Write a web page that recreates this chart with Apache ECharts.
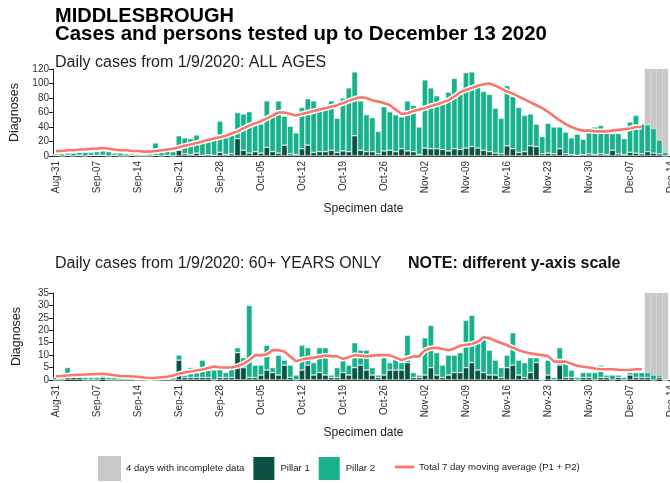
<!DOCTYPE html>
<html>
<head>
<meta charset="utf-8">
<title>Middlesbrough cases</title>
<script src="https://cdn.jsdelivr.net/npm/echarts@6/dist/echarts.min.js"></script>
<style>
  html, body { margin: 0; padding: 0; background: #fff; }
  #chart { width: 670px; height: 483px; }
</style>
</head>
<body>
<div id="chart"></div>
<script>
// specimen dates shown on the x axis (last one only carries the cut-off tick label)
const dates = [
  'Aug-31',
  'Sep-01','Sep-02','Sep-03','Sep-04','Sep-05','Sep-06','Sep-07','Sep-08','Sep-09','Sep-10',
  'Sep-11','Sep-12','Sep-13','Sep-14','Sep-15','Sep-16','Sep-17','Sep-18','Sep-19','Sep-20',
  'Sep-21','Sep-22','Sep-23','Sep-24','Sep-25','Sep-26','Sep-27','Sep-28','Sep-29','Sep-30',
  'Oct-01','Oct-02','Oct-03','Oct-04','Oct-05','Oct-06','Oct-07','Oct-08','Oct-09','Oct-10',
  'Oct-11','Oct-12','Oct-13','Oct-14','Oct-15','Oct-16','Oct-17','Oct-18','Oct-19','Oct-20',
  'Oct-21','Oct-22','Oct-23','Oct-24','Oct-25','Oct-26','Oct-27','Oct-28','Oct-29','Oct-30','Oct-31',
  'Nov-01','Nov-02','Nov-03','Nov-04','Nov-05','Nov-06','Nov-07','Nov-08','Nov-09','Nov-10',
  'Nov-11','Nov-12','Nov-13','Nov-14','Nov-15','Nov-16','Nov-17','Nov-18','Nov-19','Nov-20',
  'Nov-21','Nov-22','Nov-23','Nov-24','Nov-25','Nov-26','Nov-27','Nov-28','Nov-29','Nov-30',
  'Dec-01','Dec-02','Dec-03','Dec-04','Dec-05','Dec-06','Dec-07','Dec-08','Dec-09','Dec-10',
  'Dec-11','Dec-12','Dec-13','Dec-14'
];
const incompleteDays = ['Dec-10', 'Dec-11', 'Dec-12', 'Dec-13'];

// ALL AGES
const allP1 = [
  1,0,1,0,1,0,1,1,1,0, 1,0,0,1,0,0,0,1,0,1, 0,8,3,2,4,1,2,1,5,2,
  3,24,8,4,6,4,12,6,4,15, 3,2,10,15,5,6,6,8,5,7, 6,28,8,6,6,3,7,8,6,10,
  7,6,2,11,10,10,9,7,10,9, 11,13,11,8,6,4,3,14,10,5, 6,14,13,3,4,3,10,3,2,1,
  2,3,2,3,2,8,3,2,5,4, 3,6,4,3,0
];
const allP2 = [
  2,3,3,4,4,5,4,5,6,6, 3,4,3,2,2,2,3,17,5,7, 6,20,22,22,25,21,20,24,43,25,
  27,36,50,57,38,40,64,49,72,40, 38,30,57,64,71,62,62,68,47,73, 88,88,68,51,47,31,61,53,51,44,
  69,64,38,94,84,73,67,81,97,82, 104,103,85,81,79,62,49,83,72,62, 50,44,31,24,41,37,30,30,23,29,
  21,33,38,39,34,23,28,22,42,52, 41,37,34,19,5
];
const allMA = [
  7,7,8,8,9,9,10,10,11,10, 9,8,8,7,7,6,6,7,8,9, 10,12,14,16,18,20,22,24,26,28,
  31,34,38,42,45,48,52,56,60,60, 58,56,58,60,62,64,66,68,70,73, 76,79,81,80,77,75,73,70,64,58,
  59,62,64,66,69,71,74,77,82,88, 91,94,97,99,100,97,93,89,86,82, 78,74,70,66,61,55,49,44,40,37,
  35,35,34,34,34,35,36,37,38,40, 40
];

// 60+ YEARS ONLY
const olderP1 = [
  0,0,1,1,1,0,0,0,1,0, 0,0,0,0,0,0,0,0,0,0, 0,8,1,1,1,1,1,0,1,1,
  1,11,5,1,1,2,4,3,2,6, 1,0,4,6,2,3,2,1,1,3, 2,5,6,4,2,1,2,4,4,4,
  7,1,1,2,5,2,1,2,3,3, 5,7,4,3,2,2,1,5,6,2, 1,3,7,0,2,0,6,1,1,0,
  1,1,0,1,1,0,1,0,2,1, 1,1,0,1,0
];
const olderP2 = [
  1,1,4,2,1,1,1,1,1,1, 1,1,1,1,0,1,0,2,2,1, 1,2,1,4,2,7,3,4,4,2,
  4,2,4,29,5,4,10,2,8,2, 5,2,10,7,5,10,11,1,4,5, 4,10,6,8,3,1,7,3,5,3,
  11,2,1,15,17,9,5,8,7,8, 19,19,12,14,10,6,4,5,13,6, 6,6,2,0,6,1,7,7,3,1,
  2,2,3,5,1,2,1,1,1,2, 2,2,2,1,0
];
const olderMA = [
  1.5,1.6,1.8,2,2.1,2.2,2.3,2.4,2.5,2.2, 1.9,1.6,1.5,1.4,1.3,1,0.8,0.9,1.1,1.3,
  1.8,2.5,3,3.4,3.8,4.2,4.8,5.4,5,5, 5,5.6,6.5,8,10,10,10.3,12,12,11.5,
  9.5,7.5,8.3,8.7,9,9.4,9.8,9.6,9.5,8.5, 9.2,10,9.8,9.5,9.8,10,10,10,9,8,
  8.8,9.5,9.5,12,12.8,13,12.5,12,12.7,13.8, 14.2,14.5,15.4,17.2,16.8,15.8,14.9,14,13,12,
  11.3,10.7,10.3,10,9.6,7.5,7.4,7.4,6.5,5.7, 5.3,5,4.6,4.3,4.3,4.3,4.1,4,4.1,4.3,
  4.3
];

const topMax = 120, topStep = 20;
const bottomMax = 35, bottomStep = 5;

const FONT = '"Liberation Sans", Arial, sans-serif';
const C_P1 = '#0b5244';
const C_P2 = '#19b08c';
const C_GREY = '#c8c8c8';
const C_MA = '#f8766d';

const N_GREY = '4 days with incomplete data';
const N_P1 = 'Pillar 1';
const N_P2 = 'Pillar 2';
const N_MA = 'Total 7 day moving average (P1 + P2)';

const weekly = (i) => i % 7 === 0;

function xAxisFor(g) {
  return {
    type: 'category',
    gridIndex: g,
    data: dates,
    axisLine: { lineStyle: { color: '#222', width: 1 } },
    axisTick: { interval: weekly, alignWithLabel: true, length: 4, lineStyle: { color: '#222' } },
    axisLabel: { interval: weekly, rotate: 90, fontSize: 10, color: '#333', fontFamily: FONT, margin: 5 },
    name: 'Specimen date',
    nameLocation: 'middle',
    nameGap: 47,
    nameTextStyle: { fontSize: 12, color: '#222', fontFamily: FONT }
  };
}

function yAxisFor(g, max, step) {
  return {
    type: 'value',
    gridIndex: g,
    min: 0,
    max: max,
    interval: step,
    axisLine: { show: true, lineStyle: { color: '#222' } },
    axisTick: { show: true, length: 4, lineStyle: { color: '#222' } },
    splitLine: { show: false },
    axisLabel: { fontSize: 10, color: '#333', fontFamily: FONT, margin: 4 },
    name: 'Diagnoses',
    nameLocation: 'middle',
    nameRotate: 90,
    nameGap: 30,
    nameTextStyle: { fontSize: 12.5, color: '#222', fontFamily: FONT }
  };
}

function panelSeries(g, p1, p2, ma, max) {
  const grey = dates.map(d => incompleteDays.includes(d) ? max : null);
  const barBase = { type: 'bar', xAxisIndex: g, yAxisIndex: g, barCategoryGap: 0, barGap: '-100%' };
  return [
    Object.assign({}, barBase, { name: N_GREY, data: grey, itemStyle: { color: C_GREY }, z: 1 }),
    Object.assign({}, barBase, { name: N_P1, stack: 'cases' + g, data: p1, z: 2,
      itemStyle: { color: C_P1, borderColor: '#fff', borderWidth: 0.5 } }),
    Object.assign({}, barBase, { name: N_P2, stack: 'cases' + g, data: p2, z: 2,
      itemStyle: { color: C_P2, borderColor: '#fff', borderWidth: 0.5 } }),
    { type: 'line', name: 'halo' + g, xAxisIndex: g, yAxisIndex: g, data: ma, symbol: 'none',
      silent: true, z: 3, lineStyle: { color: '#fff', width: 5.5 } },
    { type: 'line', name: N_MA, xAxisIndex: g, yAxisIndex: g, data: ma, symbol: 'none',
      z: 4, lineStyle: { color: C_MA, width: 2.6 }, itemStyle: { color: C_MA } }
  ];
}

const chart = echarts.init(document.getElementById('chart'));
chart.setOption({
  animation: false,
  backgroundColor: '#fff',
  textStyle: { fontFamily: FONT },
  title: [
    { text: 'MIDDLESBROUGH', left: 50, top: 1,
      textStyle: { fontSize: 20, fontWeight: 'bold', color: '#000', fontFamily: FONT } },
    { text: 'Cases and persons tested up to December 13 2020', left: 50, top: 19,
      textStyle: { fontSize: 20.4, fontWeight: 'bold', color: '#000', fontFamily: FONT } },
    { text: 'Daily cases from 1/9/2020: ALL AGES', left: 50, top: 50,
      textStyle: { fontSize: 16, fontWeight: 'normal', color: '#222', fontFamily: FONT } },
    { text: 'Daily cases from 1/9/2020: 60+ YEARS ONLY', left: 50, top: 251,
      textStyle: { fontSize: 16, fontWeight: 'normal', color: '#222', fontFamily: FONT } },
    { text: 'NOTE: different y-axis scale', left: 403, top: 251,
      textStyle: { fontSize: 16, fontWeight: 'bold', color: '#111', fontFamily: FONT } }
  ],
  legend: [
    { left: 93, top: 450, itemWidth: 23, itemHeight: 25, itemGap: 7, icon: 'rect',
      selectedMode: false, data: [N_GREY, N_P1, N_P2],
      textStyle: { fontSize: 9.6, color: '#222', fontFamily: FONT } },
    { left: 390, top: 457, itemWidth: 19, itemHeight: 25,
      selectedMode: false,
      data: [{ name: N_MA, icon: 'path://M0,0H20V3H0Z' }],
      textStyle: { fontSize: 9.6, color: '#222', fontFamily: FONT } }
  ],
  grid: [
    { left: 53, top: 69, width: 621, height: 87, outerBoundsMode: 'none' },
    { left: 53, top: 293, width: 621, height: 87, outerBoundsMode: 'none' }
  ],
  xAxis: [xAxisFor(0), xAxisFor(1)],
  yAxis: [yAxisFor(0, topMax, topStep), yAxisFor(1, bottomMax, bottomStep)],
  series: [].concat(
    panelSeries(0, allP1, allP2, allMA, topMax),
    panelSeries(1, olderP1, olderP2, olderMA, bottomMax)
  )
});
window.addEventListener('resize', function () { chart.resize(); });
</script>
</body>
</html>
